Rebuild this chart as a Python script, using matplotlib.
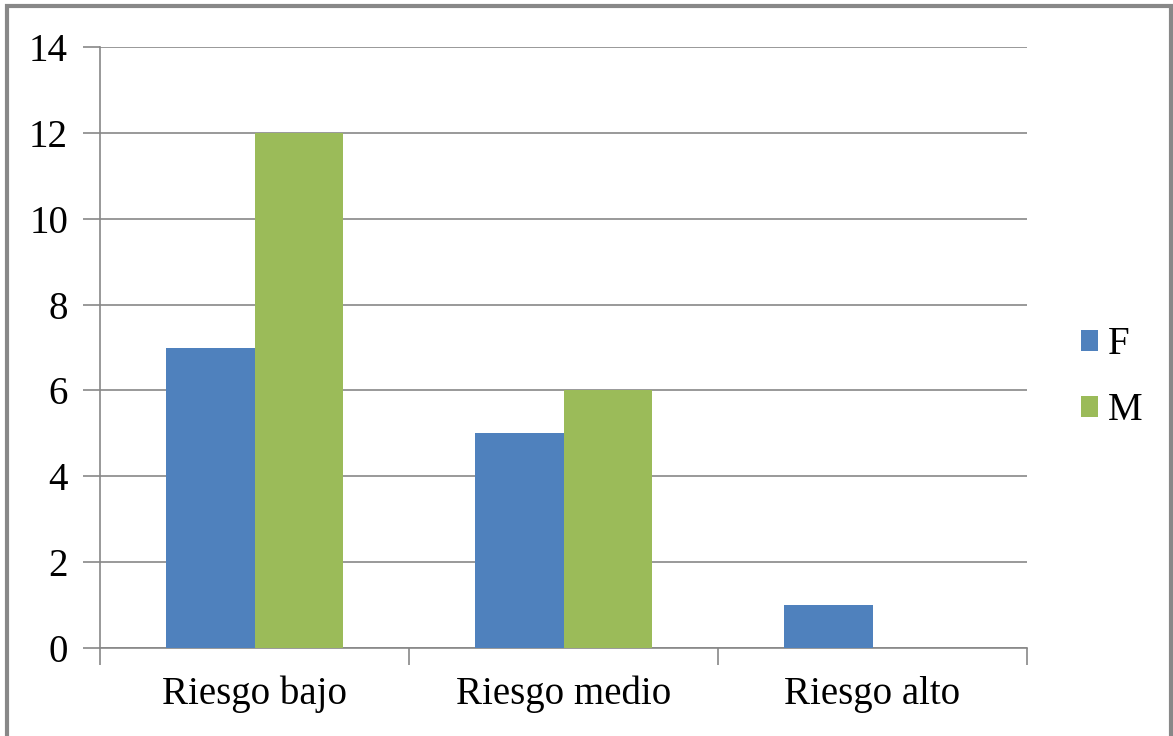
import numpy as np
import matplotlib.pyplot as plt
from matplotlib.patches import Rectangle

categorias = ['Riesgo bajo', 'Riesgo medio', 'Riesgo alto']
F = [7, 5, 1]
M = [12, 6, 0]
yticks = [0, 2, 4, 6, 8, 10, 12, 14]

plt.rcParams['font.family'] = ['Liberation Serif', 'DejaVu Serif']

fig = plt.figure(figsize=(11.73, 7.36), dpi=100)
ax = fig.add_axes([100/1173, 1-648/736, 927/1173, 601/736])

gris = '#878787'
x = np.arange(len(categorias))
w = 0.288
ax.bar(x - w/2, F, w, color='#4F81BD', label='F', zorder=3)
ax.bar(x + w/2, M, w, color='#9BBB59', label='M', zorder=3)

ax.set_xlim(-0.5, 2.5)
ax.set_ylim(0, 14)
ax.set_yticks(yticks)
ax.set_yticklabels([str(v) for v in yticks], fontsize=28)
ax.yaxis.grid(True, color=gris, linewidth=1.2, zorder=0)
ax.tick_params(axis='y', length=12, width=1.2, color=gris, pad=11)

ax.set_xticks(x)
ax.set_xticklabels(categorias, fontsize=28)
ax.set_xticks([-0.5, 0.5, 1.5, 2.5], minor=True)
ax.tick_params(axis='x', which='major', length=0, pad=20)
ax.tick_params(axis='x', which='minor', length=12, width=1.2, color=gris)

for s in ['top', 'right']:
    ax.spines[s].set_visible(False)
for s in ['left', 'bottom']:
    ax.spines[s].set_color(gris)
    ax.spines[s].set_linewidth(1.2)

ax.legend(loc='center left', bbox_to_anchor=(1.02, 0.45), frameon=False,
          fontsize=28, handlelength=0.45, handleheight=0.45, handletextpad=0.25,
          labelspacing=0.75)

fig.patches.append(Rectangle((7/1173, -0.01), (1171-7)/1173, 1.01 - 6/736,
                             transform=fig.transFigure, fill=False,
                             edgecolor='#888888', linewidth=3))

plt.savefig('out.png', dpi=100)
